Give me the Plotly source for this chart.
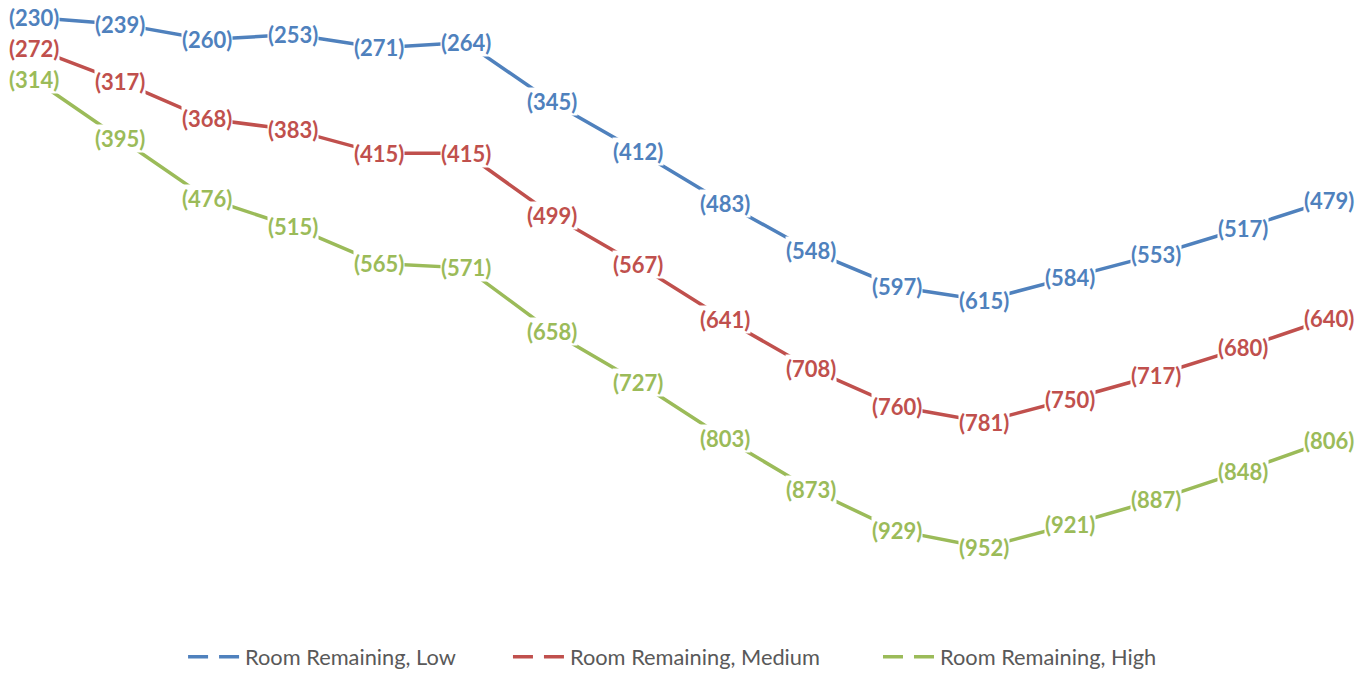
import plotly.graph_objects as go

points = list(range(16))
low = [230, 239, 260, 253, 271, 264, 345, 412, 483, 548, 597, 615, 584, 553, 517, 479]
medium = [272, 317, 368, 383, 415, 415, 499, 567, 641, 708, 760, 781, 750, 717, 680, 640]
high = [314, 395, 476, 515, 565, 571, 658, 727, 803, 873, 929, 952, 921, 887, 848, 806]

series = [
    ("Room Remaining, Low", low, "#4F81BD"),
    ("Room Remaining, Medium", medium, "#C0504D"),
    ("Room Remaining, High", high, "#9BBB59"),
]
legend_ids = ["legend", "legend2", "legend3"]
legend_x = [0.1276, 0.3644, 0.6341]

fig = go.Figure()
annotations = []
for name, vals, color in series:
    yv = [-v for v in vals]
    fig.add_trace(go.Scatter(
        x=points, y=yv, mode="lines", name=name,
        line=dict(color=color, width=3.5),
        hoverinfo="skip", showlegend=False,
    ))
    for xi, yi, v in zip(points, yv, vals):
        annotations.append(dict(
            x=xi, y=yi, xref="x", yref="y", text=f"({v})", showarrow=False,
            font=dict(family="Lato", size=22, color=color, weight="bold"),
            bgcolor="white", borderpad=0, xanchor="center", yanchor="middle",
        ))

# dashed legend entries
for (name, vals, color), lid in zip(series, legend_ids):
    fig.add_trace(go.Scatter(
        x=[None], y=[None], mode="lines", name=name, legend=lid,
        line=dict(color=color, width=3.5, dash="20px,11px"), showlegend=True,
    ))

legend_common = dict(orientation="h", xanchor="left", y=-0.0817, yanchor="middle",
                     font=dict(family="Lato", size=21.8, color="#595959"),
                     itemwidth=52, bgcolor="rgba(0,0,0,0)")

fig.update_layout(
    width=1372, height=673,
    margin=dict(l=0, r=0, t=0, b=73),
    paper_bgcolor="white", plot_bgcolor="white",
    xaxis=dict(visible=False, range=[-0.301, 15.59]),
    yaxis=dict(visible=False, range=[-1034.4, -217.0]),
    annotations=annotations,
    showlegend=True,
    legend=dict(x=legend_x[0], **legend_common),
    legend2=dict(x=legend_x[1], **legend_common),
    legend3=dict(x=legend_x[2], **legend_common),
)

fig.write_html("out.html")
